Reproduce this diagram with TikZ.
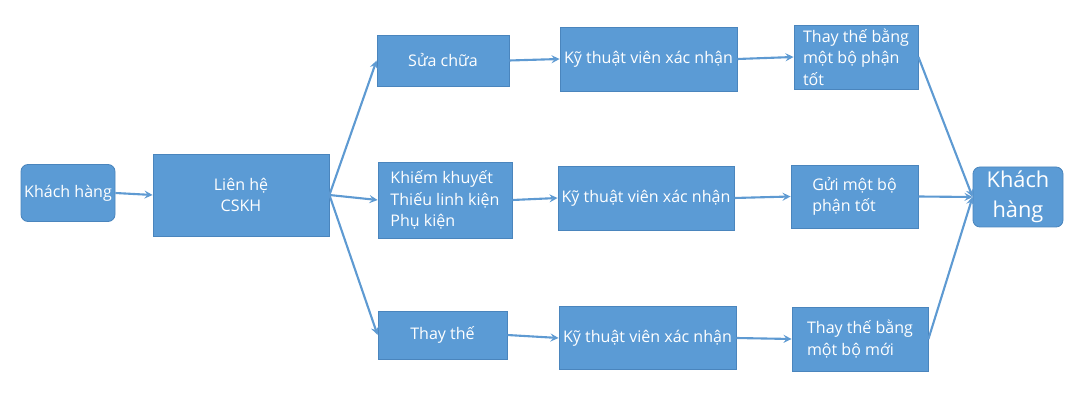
\documentclass[tikz,border=0pt]{standalone}
\usepackage{fontspec}
\setmainfont{Open Sans}
\usepackage{xcolor}
\usepackage{tikz}
\usetikzlibrary{calc, positioning}

\definecolor{boxblue}{HTML}{5B9BD5}
\definecolor{boxedge}{HTML}{4A85BD}
\definecolor{linkblue}{HTML}{5E9AD2}

\tikzset{
    khoi/.style={draw=boxedge, line width=0.6pt, fill=boxblue, text=white,
        inner sep=0pt, font=\fontsize{11.4}{15.2}\selectfont},
    khoitron/.style={khoi, rounded corners=5pt},
    noi/.style={->, draw=linkblue, line width=1.5pt}
}

\begin{document}
\begin{tikzpicture}[>=stealth, x=0.025cm, y=-0.025cm]
    \useasboundingbox (0,0) rectangle (1080,400);

    % Cột 1 và 2
    \node[khoitron, minimum width=94*0.025cm, minimum height=57*0.025cm] (kh1) at (68,193) {Khách hàng};
    \node[khoi, minimum width=176*0.025cm, minimum height=82*0.025cm, align=center] (lienhe) at (241,195) {Liên hệ\\CSKH};

    % Cột 3: ba trường hợp
    \node[khoi, minimum width=132*0.025cm, minimum height=51*0.025cm] (suachua) at (443,60.5) {Sửa chữa};
    \node[khoi, minimum width=134*0.025cm, minimum height=76*0.025cm, align=left] (khiem) at (445,200) {Khiếm khuyết\\Thiếu linh kiện\\Phụ kiện};
    \node[khoi, minimum width=129*0.025cm, minimum height=48*0.025cm] (thaythe) at (442.5,335) {Thay thế};

    % Cột 4: kỹ thuật viên
    \node[khoi, minimum width=177*0.025cm, minimum height=64*0.025cm] (ktv1) at (648.5,59) {Kỹ thuật viên xác nhận};
    \node[khoi, minimum width=176*0.025cm, minimum height=64*0.025cm] (ktv2) at (646,198) {Kỹ thuật viên xác nhận};
    \node[khoi, minimum width=177*0.025cm, minimum height=63*0.025cm] (ktv3) at (647.5,338) {Kỹ thuật viên xác nhận};

    % Cột 5: cách xử lý
    \node[khoi, minimum width=124*0.025cm, minimum height=64*0.025cm, align=left] (tot1) at (856,57) {Thay thế bằng\\một bộ phận\\tốt};
    \node[khoi, minimum width=127*0.025cm, minimum height=63*0.025cm, align=left] (gui) at (854.5,196.5) {Gửi một bộ\\phận tốt};
    \node[khoi, minimum width=136*0.025cm, minimum height=64*0.025cm, align=left] (moi) at (860,339) {Thay thế bằng\\một bộ mới};

    \node[khoitron, minimum width=90*0.025cm, minimum height=60*0.025cm, align=center,
        font=\fontsize{15.5}{21}\selectfont] (kh2) at (1018,197) {Khách\\hàng};

    % Mũi tên
    \draw[noi] (kh1.east) -- (lienhe.west);
    \draw[noi] (lienhe.east) -- (suachua.west);
    \draw[noi] (lienhe.east) -- (khiem.west);
    \draw[noi] (lienhe.east) -- (thaythe.west);
    \draw[noi] (suachua.east) -- (ktv1.west);
    \draw[noi] (khiem.east) -- (ktv2.west);
    \draw[noi] (thaythe.east) -- (ktv3.west);
    \draw[noi] (ktv1.east) -- (tot1.west);
    \draw[noi] (ktv2.east) -- (gui.west);
    \draw[noi] (ktv3.east) -- (moi.west);
    \draw[noi] (tot1.east) -- (kh2.west);
    \draw[noi] (gui.east) -- (kh2.west);
    \draw[noi] (moi.east) -- (kh2.west);
\end{tikzpicture}
\end{document}
